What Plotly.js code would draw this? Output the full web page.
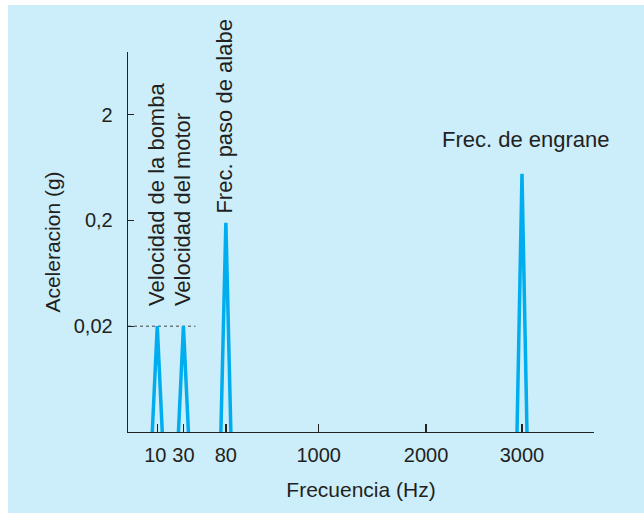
<!DOCTYPE html>
<html><head><meta charset="utf-8">
<script src="https://cdn.plot.ly/plotly-3.0.1.min.js"></script>
<style>
html,body{margin:0;padding:0;background:#fff;width:644px;height:513px;overflow:hidden}
#chart{position:absolute;left:8px;top:5px;width:636px;height:508px}
</style>
</head><body><div id="chart"></div>
<script>
// ---- data ----
const tickFreqs = [10, 30, 80, 1000, 2000, 3000];
const tickLabels = ['10\u2009', '30', '80', '1000', '2000', '3000'];
const peakNames = ['Velocidad de la bomba', 'Velocidad del motor', 'Frec. paso de alabe', 'Frec. de engrane'];
const peakFreqs = [10, 30, 80, 3000];
const peakAccel = [0.02, 0.02, 0.19, 0.55];
const yTickVals = [0.02, 0.2, 2];
const yTickLabels = ['0,02', '0,2', '2'];
const floorAccel = 0.002;
const refLevel = 0.02;

// ---- schematic (non-uniform) frequency scale: slot of each tick frequency ----
const axisSlots = [29.3, 55.5, 98, 191, 298.5, 394.5];
const axisLength = 466.6;
function slot(f) {
  for (let i = 0; i < tickFreqs.length - 1; i++) {
    if (f <= tickFreqs[i + 1]) {
      const t = (f - tickFreqs[i]) / (tickFreqs[i + 1] - tickFreqs[i]);
      return axisSlots[i] + t * (axisSlots[i + 1] - axisSlots[i]);
    }
  }
  return axisSlots[axisSlots.length - 1];
}
const halfBase = 5;
const FONT = 'Liberation Sans, Arial, Helvetica, sans-serif';
const INK = '#231f20';
const BLUE = '#00aeef';

const traces = [];
// dotted reference line at 0.02 g
traces.push({
  x: [0, slot(30) + 12], y: [refLevel, refLevel], mode: 'lines',
  line: {color: '#444', width: 1, dash: 'dot'}, hoverinfo: 'skip'
});
peakFreqs.forEach((f, i) => {
  const c = slot(f);
  traces.push({
    x: [c - halfBase, c, c + halfBase],
    y: [floorAccel, peakAccel[i], floorAccel],
    mode: 'lines', name: peakNames[i],
    line: {color: BLUE, width: 3.5}
  });
});

const annotations = peakNames.map((n, i) => {
  const vertical = i < 3;
  const a = {
    x: slot(peakFreqs[i]), y: Math.log10(peakAccel[i]), xref: 'x', yref: 'y',
    text: n, showarrow: false,
    font: {family: FONT, size: 22, color: INK}
  };
  if (vertical) {
    a.textangle = -90; a.xanchor = 'center'; a.yanchor = 'bottom';
    a.yshift = i < 2 ? 18 : 7; a.xshift = -1;
  } else {
    a.xanchor = 'center'; a.yanchor = 'middle'; a.yshift = 34; a.xshift = 4;
  }
  return a;
});

const layout = {
  width: 636, height: 508,
  paper_bgcolor: '#ccedfa', plot_bgcolor: 'rgba(0,0,0,0)',
  margin: {l: 120, r: 50, t: 47, b: 81},
  showlegend: false,
  font: {family: FONT, color: INK},
  xaxis: {
    range: [0, axisLength], tickmode: 'array',
    tickvals: tickFreqs.map(slot), ticktext: tickLabels, tickangle: 0,
    ticks: 'inside', ticklen: 8, tickwidth: 1.3, tickcolor: '#222',
    showline: true, linecolor: '#222', linewidth: 1.3, showgrid: false, zeroline: false,
    tickfont: {size: 20, family: FONT, color: INK},
    ticklabelstandoff: 5,
    title: {text: 'Frecuencia (Hz)', font: {size: 21, family: FONT, color: INK}, standoff: 17}
  },
  yaxis: {
    type: 'log', range: [Math.log10(floorAccel), Math.log10(7.8)],
    tickmode: 'array', tickvals: yTickVals, ticktext: yTickLabels,
    ticks: 'inside', ticklen: 6, tickwidth: 1.3, tickcolor: '#222',
    showline: true, linecolor: '#222', linewidth: 1.3, showgrid: false, zeroline: false,
    tickfont: {size: 20, family: FONT, color: INK},
    ticklabelstandoff: 10,
    title: {text: 'Aceleracion (g)', font: {size: 21, family: FONT, color: INK}, standoff: 7}
  },
  annotations: annotations
};

Plotly.newPlot('chart', traces, layout, {displayModeBar: false, staticPlot: true});
</script>
</body></html>
